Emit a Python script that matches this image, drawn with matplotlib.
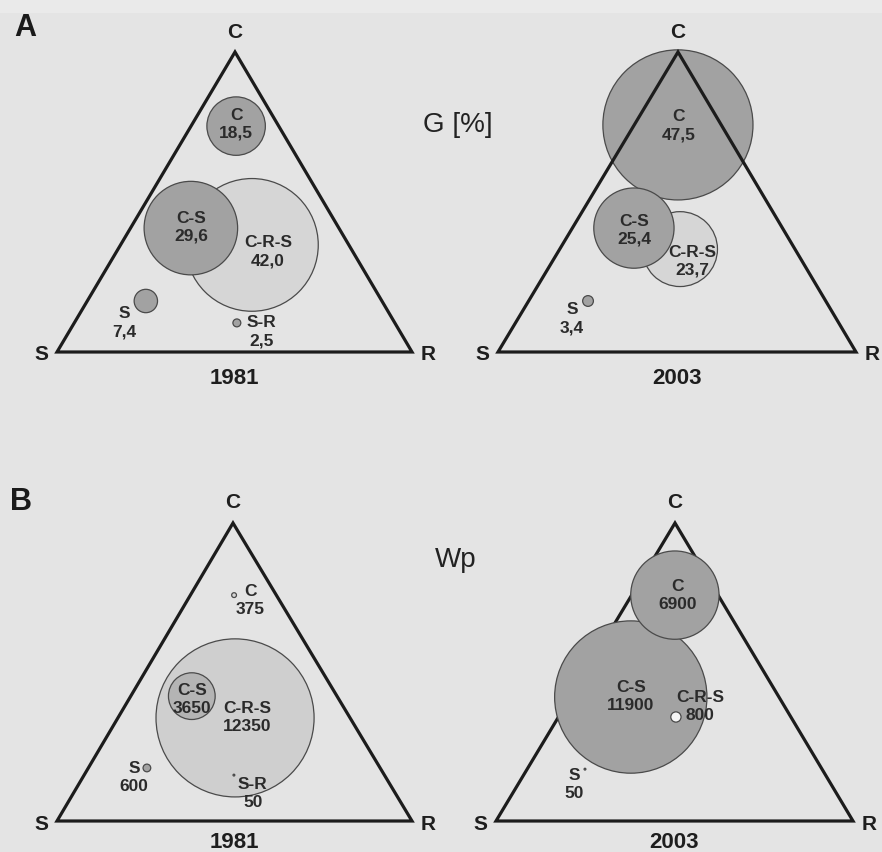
import matplotlib.pyplot as plt
from matplotlib.patches import Circle, Polygon

plt.rcParams['font.family'] = ['Liberation Sans', 'DejaVu Sans']

# shares are (C, S, R) positions inside the triangle
# A: G [%]
g81_type = ['C-R-S', 'C-S', 'C', 'S', 'S-R']
g81_val = [42.0, 29.6, 18.5, 7.4, 2.5]
g81_share = [(0.357, 0.273, 0.370), (0.413, 0.417, 0.170), (0.753, 0.120, 0.127),
             (0.170, 0.665, 0.165), (0.097, 0.445, 0.458)]

g03_type = ['C', 'C-R-S', 'C-S', 'S']
g03_val = [47.5, 23.7, 25.4, 3.4]
g03_share = [(0.757, 0.121, 0.122), (0.343, 0.321, 0.336), (0.413, 0.415, 0.172),
             (0.170, 0.664, 0.166)]

# B: Wp
w81_type = ['C-R-S', 'C-S', 'C', 'S', 'S-R']
w81_val = [12350, 3650, 375, 600, 50]
w81_share = [(0.346, 0.324, 0.330), (0.419, 0.409, 0.172), (0.758, 0.119, 0.123),
             (0.178, 0.657, 0.165), (0.154, 0.424, 0.422)]

w03_type = ['C-S', 'C', 'C-R-S', 'S']
w03_val = [11900, 6900, 800, 50]
w03_share = [(0.416, 0.415, 0.169), (0.758, 0.121, 0.121), (0.349, 0.322, 0.329),
             (0.174, 0.664, 0.162)]

years = ['1981', '2003']

# layout (figure pixels): triangle corners S, R, C
tri = {
    'A1981': [(57, 352), (412, 352), (235, 52)],
    'A2003': [(498, 352), (856, 352), (678, 52)],
    'B1981': [(57, 821), (412, 821), (233, 523)],
    'B2003': [(496, 821), (853, 821), (675, 523)],
}
# label offsets from circle centre
lab_off = {
    'A1981': {'C-R-S': (16, 7), 'C-S': (0, -1), 'C': (0, -2), 'S': (-22, 22), 'S-R': (25, 9)},
    'A2003': {'C': (1, 1), 'C-R-S': (12, 12), 'C-S': (0, 2), 'S': (-16, 18)},
    'B1981': {'C-R-S': (12, 0), 'C-S': (0, 3), 'C': (16, 5), 'S': (-13, 10), 'S-R': (19, 18)},
    'B2003': {'C-S': (0, -1), 'C': (3, 0), 'C-R-S': (24, -10), 'S': (-11, 15)},
}
dark = '#a2a2a2'
light = '#d6d6d6'
fills = {
    'A1981': {'C-R-S': light},
    'A2003': {'C-R-S': light},
    'B1981': {'C-R-S': '#cfcfcf', 'C-S': '#b4b4b4', 'C': light},
    'B2003': {'C-R-S': '#f5f5f5'},
}

bg = '#e4e4e4'
fig = plt.figure(figsize=(8.82, 8.52), dpi=100, facecolor=bg)
ax = fig.add_axes([0, 0, 1, 1])
ax.set_xlim(0, 882)
ax.set_ylim(852, 0)
ax.axis('off')
ax.axhspan(0, 13, color='#eaeaea', lw=0, zorder=0)


def to_xy(share, corners):
    c, s, r = share
    (xs, ys), (xr, yr), (xc, yc) = corners
    return s * xs + r * xr + c * xc, s * ys + r * yr + c * yc


def panel(key, types, vals, shares, scale, fmt, tri_on_top, year, year_dy):
    corners = tri[key]
    tz = 3 if tri_on_top else 1
    ax.add_patch(Polygon(corners, closed=True, fill=False, ec='#1c1c1c', lw=2.3,
                         joinstyle='miter', zorder=tz))
    for t, v, sh in zip(types, vals, shares):
        x, y = to_xy(sh, corners)
        rad = max(v * scale, 0.9)
        ax.add_patch(Circle((x, y), rad, fc=fills[key].get(t, dark), ec='#4a4a4a',
                            lw=0.9, zorder=2))
        dx, dy = lab_off[key][t]
        ax.text(x + dx, y + dy, t + '\n' + fmt(v), ha='center', va='center',
                fontsize=12.5, fontweight='bold', color='#2b2b2b', linespacing=1.25,
                zorder=4)
    (xs, ys), (xr, yr), (xc, yc) = corners
    kw = dict(fontsize=15, fontweight='bold', color='#1e1e1e', va='center', zorder=4)
    ax.text(xc, yc - 20, 'C', ha='center', **kw)
    ax.text(xs - 16, ys + 3, 'S', ha='center', **kw)
    ax.text(xr + 16, yr + 3, 'R', ha='center', **kw)
    ax.text((xs + xr) / 2, ys + year_dy, year, ha='center', va='center',
            fontsize=16, fontweight='bold', color='#1e1e1e', zorder=4)


pct = lambda v: f'{v:.1f}'.replace('.', ',')
whole = lambda v: f'{v:d}'

panel('A1981', g81_type, g81_val, g81_share, 1.58, pct, True, years[0], 27)
panel('A2003', g03_type, g03_val, g03_share, 1.58, pct, True, years[1], 27)
panel('B1981', w81_type, w81_val, w81_share, 0.0064, whole, False, years[0], 21)
panel('B2003', w03_type, w03_val, w03_share, 0.0064, whole, False, years[1], 22)

ax.text(25, 28, 'A', ha='center', va='center', fontsize=22, fontweight='bold', color='#1a1a1a')
ax.text(21, 502, 'B', ha='center', va='center', fontsize=22, fontweight='bold', color='#1a1a1a')
ax.text(458, 125, 'G [%]', ha='center', va='center', fontsize=20, color='#222222')
ax.text(456, 560, 'Wp', ha='center', va='center', fontsize=20, color='#222222')

fig.savefig('out.png', dpi=100, facecolor=bg)
